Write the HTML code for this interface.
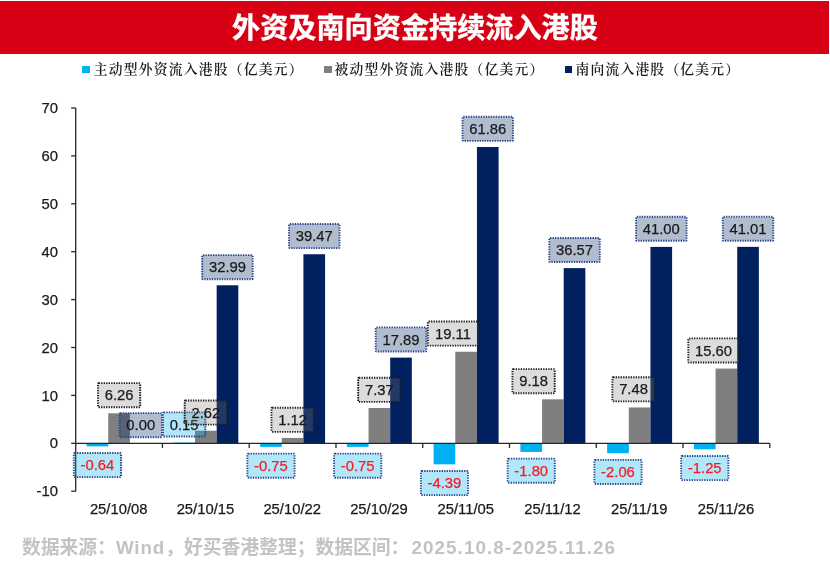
<!DOCTYPE html>
<html lang="zh-CN">
<head>
<meta charset="utf-8">
<title>外资及南向资金持续流入港股</title>
<style>
html,body{margin:0;padding:0;background:#fff;}
body{width:830px;height:561px;position:relative;overflow:hidden;font-family:"Liberation Sans","Noto Sans CJK SC",sans-serif;}
.title{position:absolute;left:0;top:1px;width:828.7px;height:52.5px;background:#d70014;color:#fff;font-weight:700;font-size:28.15px;line-height:52px;text-align:center;font-family:"Liberation Sans","Noto Sans CJK SC",sans-serif;}
.title span{position:relative;left:0.65px;top:1.6px;-webkit-text-stroke:0.4px #fff;}
.legend{position:absolute;top:59px;height:22px;line-height:22px;font-family:"Liberation Serif","Noto Serif CJK SC",serif;font-size:13.8px;letter-spacing:1.2px;font-weight:600;color:#1a1a1a;white-space:nowrap;}
.legend .p{margin-left:0;}
.legend i{position:absolute;top:6.5px;width:7.8px;height:7.8px;display:block;}
.chart{position:absolute;left:0;top:0;}
.foot .l{letter-spacing:0.9px;}
.foot{position:absolute;left:22px;top:534.5px;font-size:18.8px;line-height:26px;font-weight:700;color:#c3c3c3;white-space:nowrap;font-family:"Liberation Sans","Noto Sans CJK SC",sans-serif;}
</style>
</head>
<body>
<div class="title"><span>外资及南向资金持续流入港股</span></div>
<div class="legend" style="left:93.8px"><i style="left:-11.7px;background:#00b0f0"></i>主动型外资流入港股<span class="p">（亿美元）</span></div>
<div class="legend" style="left:334.5px"><i style="left:-10.8px;background:#7f7f7f"></i>被动型外资流入港股<span class="p">（亿美元）</span></div>
<div class="legend" style="left:575.4px"><i style="left:-10.8px;background:#002060"></i>南向流入港股<span class="p">（亿美元）</span></div>
<svg class="chart" width="830" height="561" viewBox="0 0 830 561">
<rect x="86.60" y="443.30" width="21.65" height="3.07" fill="#00b0f0"/>
<rect x="108.25" y="413.31" width="21.65" height="29.99" fill="#7f7f7f"/>
<rect x="173.36" y="442.58" width="21.65" height="0.72" fill="#00b0f0"/>
<rect x="195.01" y="430.75" width="21.65" height="12.55" fill="#7f7f7f"/>
<rect x="216.66" y="285.28" width="21.65" height="158.02" fill="#002060"/>
<rect x="260.12" y="443.30" width="21.65" height="3.59" fill="#00b0f0"/>
<rect x="281.77" y="437.94" width="21.65" height="5.36" fill="#7f7f7f"/>
<rect x="303.42" y="254.24" width="21.65" height="189.06" fill="#002060"/>
<rect x="346.88" y="443.30" width="21.65" height="3.59" fill="#00b0f0"/>
<rect x="368.53" y="408.00" width="21.65" height="35.30" fill="#7f7f7f"/>
<rect x="390.18" y="357.61" width="21.65" height="85.69" fill="#002060"/>
<rect x="433.64" y="443.30" width="21.65" height="21.03" fill="#00b0f0"/>
<rect x="455.29" y="351.76" width="21.65" height="91.54" fill="#7f7f7f"/>
<rect x="476.94" y="146.99" width="21.65" height="296.31" fill="#002060"/>
<rect x="520.40" y="443.30" width="21.65" height="8.62" fill="#00b0f0"/>
<rect x="542.05" y="399.33" width="21.65" height="43.97" fill="#7f7f7f"/>
<rect x="563.70" y="268.13" width="21.65" height="175.17" fill="#002060"/>
<rect x="607.16" y="443.30" width="21.65" height="9.87" fill="#00b0f0"/>
<rect x="628.81" y="407.47" width="21.65" height="35.83" fill="#7f7f7f"/>
<rect x="650.46" y="246.91" width="21.65" height="196.39" fill="#002060"/>
<rect x="693.92" y="443.30" width="21.65" height="5.99" fill="#00b0f0"/>
<rect x="715.57" y="368.58" width="21.65" height="74.72" fill="#7f7f7f"/>
<rect x="737.22" y="246.86" width="21.65" height="196.44" fill="#002060"/>
<g stroke="#262626" stroke-width="1.3" fill="none">
<path d="M75.70 108.00 V491.20"/>
<path d="M75.70 443.30 H769.78"/>
<path d="M71.20 491.20 H75.70"/>
<path d="M71.20 443.30 H75.70"/>
<path d="M71.20 395.40 H75.70"/>
<path d="M71.20 347.50 H75.70"/>
<path d="M71.20 299.60 H75.70"/>
<path d="M71.20 251.70 H75.70"/>
<path d="M71.20 203.80 H75.70"/>
<path d="M71.20 155.90 H75.70"/>
<path d="M71.20 108.00 H75.70"/>
<path d="M162.46 443.30 v4.6"/>
<path d="M249.22 443.30 v4.6"/>
<path d="M335.98 443.30 v4.6"/>
<path d="M422.74 443.30 v4.6"/>
<path d="M509.50 443.30 v4.6"/>
<path d="M596.26 443.30 v4.6"/>
<path d="M683.02 443.30 v4.6"/>
<path d="M769.78 443.30 v4.6"/>
</g>
<g font-family="'Liberation Sans', Arial, sans-serif" font-size="14.8" fill="#1a1a1a" stroke="#1a1a1a" stroke-width="0.25">
<text x="58" y="496.30" text-anchor="end">-10</text>
<text x="58" y="448.40" text-anchor="end">0</text>
<text x="58" y="400.50" text-anchor="end">10</text>
<text x="58" y="352.60" text-anchor="end">20</text>
<text x="58" y="304.70" text-anchor="end">30</text>
<text x="58" y="256.80" text-anchor="end">40</text>
<text x="58" y="208.90" text-anchor="end">50</text>
<text x="58" y="161.00" text-anchor="end">60</text>
<text x="58" y="113.10" text-anchor="end">70</text>
<text x="118.68" y="514.4" text-anchor="middle">25/10/08</text>
<text x="205.44" y="514.4" text-anchor="middle">25/10/15</text>
<text x="292.20" y="514.4" text-anchor="middle">25/10/22</text>
<text x="378.96" y="514.4" text-anchor="middle">25/10/29</text>
<text x="465.72" y="514.4" text-anchor="middle">25/11/05</text>
<text x="552.48" y="514.4" text-anchor="middle">25/11/12</text>
<text x="639.24" y="514.4" text-anchor="middle">25/11/19</text>
<text x="726.00" y="514.4" text-anchor="middle">25/11/26</text>
</g>
<rect x="73.81" y="453.07" width="47.23" height="24.1" rx="0.8" fill="rgba(0,176,240,0.30)" stroke="#254489" stroke-width="1.9" stroke-dasharray="1.3 1.2"/>
<text x="97.43" y="470.27" text-anchor="middle" font-family="'Liberation Sans', Arial, sans-serif" font-size="14.8" fill="#f51c24" stroke="#f51c24" stroke-width="0.25">-0.64</text>
<rect x="163.03" y="412.38" width="42.30" height="24.1" rx="0.8" fill="rgba(0,176,240,0.30)" stroke="#254489" stroke-width="1.9" stroke-dasharray="1.3 1.2"/>
<text x="184.19" y="429.58" text-anchor="middle" font-family="'Liberation Sans', Arial, sans-serif" font-size="14.8" fill="#1a1a1a" stroke="#1a1a1a" stroke-width="0.25">0.15</text>
<rect x="247.33" y="453.59" width="47.23" height="24.1" rx="0.8" fill="rgba(0,176,240,0.30)" stroke="#254489" stroke-width="1.9" stroke-dasharray="1.3 1.2"/>
<text x="270.94" y="470.79" text-anchor="middle" font-family="'Liberation Sans', Arial, sans-serif" font-size="14.8" fill="#f51c24" stroke="#f51c24" stroke-width="0.25">-0.75</text>
<rect x="334.09" y="453.59" width="47.23" height="24.1" rx="0.8" fill="rgba(0,176,240,0.30)" stroke="#254489" stroke-width="1.9" stroke-dasharray="1.3 1.2"/>
<text x="357.70" y="470.79" text-anchor="middle" font-family="'Liberation Sans', Arial, sans-serif" font-size="14.8" fill="#f51c24" stroke="#f51c24" stroke-width="0.25">-0.75</text>
<rect x="420.85" y="471.03" width="47.23" height="24.1" rx="0.8" fill="rgba(0,176,240,0.30)" stroke="#254489" stroke-width="1.9" stroke-dasharray="1.3 1.2"/>
<text x="444.46" y="488.23" text-anchor="middle" font-family="'Liberation Sans', Arial, sans-serif" font-size="14.8" fill="#f51c24" stroke="#f51c24" stroke-width="0.25">-4.39</text>
<rect x="507.61" y="458.62" width="47.23" height="24.1" rx="0.8" fill="rgba(0,176,240,0.30)" stroke="#254489" stroke-width="1.9" stroke-dasharray="1.3 1.2"/>
<text x="531.23" y="475.82" text-anchor="middle" font-family="'Liberation Sans', Arial, sans-serif" font-size="14.8" fill="#f51c24" stroke="#f51c24" stroke-width="0.25">-1.80</text>
<rect x="594.37" y="459.87" width="47.23" height="24.1" rx="0.8" fill="rgba(0,176,240,0.30)" stroke="#254489" stroke-width="1.9" stroke-dasharray="1.3 1.2"/>
<text x="617.99" y="477.07" text-anchor="middle" font-family="'Liberation Sans', Arial, sans-serif" font-size="14.8" fill="#f51c24" stroke="#f51c24" stroke-width="0.25">-2.06</text>
<rect x="681.13" y="455.99" width="47.23" height="24.1" rx="0.8" fill="rgba(0,176,240,0.30)" stroke="#254489" stroke-width="1.9" stroke-dasharray="1.3 1.2"/>
<text x="704.75" y="473.19" text-anchor="middle" font-family="'Liberation Sans', Arial, sans-serif" font-size="14.8" fill="#f51c24" stroke="#f51c24" stroke-width="0.25">-1.25</text>
<rect x="97.92" y="383.11" width="42.30" height="24.1" rx="0.8" fill="rgba(127,127,127,0.27)" stroke="#1a1a1a" stroke-width="1.9" stroke-dasharray="1.3 1.2"/>
<text x="119.08" y="400.31" text-anchor="middle" font-family="'Liberation Sans', Arial, sans-serif" font-size="14.8" fill="#1a1a1a" stroke="#1a1a1a" stroke-width="0.25">6.26</text>
<rect x="184.68" y="400.55" width="42.30" height="24.1" rx="0.8" fill="rgba(127,127,127,0.27)" stroke="#1a1a1a" stroke-width="1.9" stroke-dasharray="1.3 1.2"/>
<text x="205.84" y="417.75" text-anchor="middle" font-family="'Liberation Sans', Arial, sans-serif" font-size="14.8" fill="#1a1a1a" stroke="#1a1a1a" stroke-width="0.25">2.62</text>
<rect x="271.44" y="407.74" width="42.30" height="24.1" rx="0.8" fill="rgba(127,127,127,0.27)" stroke="#1a1a1a" stroke-width="1.9" stroke-dasharray="1.3 1.2"/>
<text x="292.59" y="424.94" text-anchor="middle" font-family="'Liberation Sans', Arial, sans-serif" font-size="14.8" fill="#1a1a1a" stroke="#1a1a1a" stroke-width="0.25">1.12</text>
<rect x="358.20" y="377.80" width="42.30" height="24.1" rx="0.8" fill="rgba(127,127,127,0.27)" stroke="#1a1a1a" stroke-width="1.9" stroke-dasharray="1.3 1.2"/>
<text x="379.35" y="395.00" text-anchor="middle" font-family="'Liberation Sans', Arial, sans-serif" font-size="14.8" fill="#1a1a1a" stroke="#1a1a1a" stroke-width="0.25">7.37</text>
<rect x="427.75" y="321.56" width="50.53" height="24.1" rx="0.8" fill="rgba(127,127,127,0.27)" stroke="#1a1a1a" stroke-width="1.9" stroke-dasharray="1.3 1.2"/>
<text x="453.01" y="338.76" text-anchor="middle" font-family="'Liberation Sans', Arial, sans-serif" font-size="14.8" fill="#1a1a1a" stroke="#1a1a1a" stroke-width="0.25">19.11</text>
<rect x="512.42" y="369.13" width="42.30" height="24.1" rx="0.8" fill="rgba(127,127,127,0.27)" stroke="#1a1a1a" stroke-width="1.9" stroke-dasharray="1.3 1.2"/>
<text x="533.58" y="386.33" text-anchor="middle" font-family="'Liberation Sans', Arial, sans-serif" font-size="14.8" fill="#1a1a1a" stroke="#1a1a1a" stroke-width="0.25">9.18</text>
<rect x="612.38" y="377.27" width="42.30" height="24.1" rx="0.8" fill="rgba(127,127,127,0.27)" stroke="#1a1a1a" stroke-width="1.9" stroke-dasharray="1.3 1.2"/>
<text x="633.54" y="394.47" text-anchor="middle" font-family="'Liberation Sans', Arial, sans-serif" font-size="14.8" fill="#1a1a1a" stroke="#1a1a1a" stroke-width="0.25">7.48</text>
<rect x="688.28" y="338.38" width="50.53" height="24.1" rx="0.8" fill="rgba(127,127,127,0.27)" stroke="#1a1a1a" stroke-width="1.9" stroke-dasharray="1.3 1.2"/>
<text x="713.55" y="355.58" text-anchor="middle" font-family="'Liberation Sans', Arial, sans-serif" font-size="14.8" fill="#1a1a1a" stroke="#1a1a1a" stroke-width="0.25">15.60</text>
<rect x="119.57" y="413.10" width="42.30" height="24.1" rx="0.8" fill="rgba(0,32,96,0.30)" stroke="#254489" stroke-width="1.9" stroke-dasharray="1.3 1.2"/>
<text x="140.72" y="430.30" text-anchor="middle" font-family="'Liberation Sans', Arial, sans-serif" font-size="14.8" fill="#1a1a1a" stroke="#1a1a1a" stroke-width="0.25">0.00</text>
<rect x="202.22" y="255.08" width="50.53" height="24.1" rx="0.8" fill="rgba(0,32,96,0.30)" stroke="#254489" stroke-width="1.9" stroke-dasharray="1.3 1.2"/>
<text x="227.49" y="272.28" text-anchor="middle" font-family="'Liberation Sans', Arial, sans-serif" font-size="14.8" fill="#1a1a1a" stroke="#1a1a1a" stroke-width="0.25">32.99</text>
<rect x="288.98" y="224.04" width="50.53" height="24.1" rx="0.8" fill="rgba(0,32,96,0.30)" stroke="#254489" stroke-width="1.9" stroke-dasharray="1.3 1.2"/>
<text x="314.25" y="241.24" text-anchor="middle" font-family="'Liberation Sans', Arial, sans-serif" font-size="14.8" fill="#1a1a1a" stroke="#1a1a1a" stroke-width="0.25">39.47</text>
<rect x="375.74" y="327.41" width="50.53" height="24.1" rx="0.8" fill="rgba(0,32,96,0.30)" stroke="#254489" stroke-width="1.9" stroke-dasharray="1.3 1.2"/>
<text x="401.00" y="344.61" text-anchor="middle" font-family="'Liberation Sans', Arial, sans-serif" font-size="14.8" fill="#1a1a1a" stroke="#1a1a1a" stroke-width="0.25">17.89</text>
<rect x="462.50" y="116.79" width="50.53" height="24.1" rx="0.8" fill="rgba(0,32,96,0.30)" stroke="#254489" stroke-width="1.9" stroke-dasharray="1.3 1.2"/>
<text x="487.76" y="133.99" text-anchor="middle" font-family="'Liberation Sans', Arial, sans-serif" font-size="14.8" fill="#1a1a1a" stroke="#1a1a1a" stroke-width="0.25">61.86</text>
<rect x="549.26" y="237.93" width="50.53" height="24.1" rx="0.8" fill="rgba(0,32,96,0.30)" stroke="#254489" stroke-width="1.9" stroke-dasharray="1.3 1.2"/>
<text x="574.52" y="255.13" text-anchor="middle" font-family="'Liberation Sans', Arial, sans-serif" font-size="14.8" fill="#1a1a1a" stroke="#1a1a1a" stroke-width="0.25">36.57</text>
<rect x="636.02" y="216.71" width="50.53" height="24.1" rx="0.8" fill="rgba(0,32,96,0.30)" stroke="#254489" stroke-width="1.9" stroke-dasharray="1.3 1.2"/>
<text x="661.29" y="233.91" text-anchor="middle" font-family="'Liberation Sans', Arial, sans-serif" font-size="14.8" fill="#1a1a1a" stroke="#1a1a1a" stroke-width="0.25">41.00</text>
<rect x="722.78" y="216.66" width="50.53" height="24.1" rx="0.8" fill="rgba(0,32,96,0.30)" stroke="#254489" stroke-width="1.9" stroke-dasharray="1.3 1.2"/>
<text x="748.05" y="233.86" text-anchor="middle" font-family="'Liberation Sans', Arial, sans-serif" font-size="14.8" fill="#1a1a1a" stroke="#1a1a1a" stroke-width="0.25">41.01</text>
</svg>
<div class="foot">数据来源：<span class="l">Wind</span>，好买香港整理；数据区间：<span class="l" style="margin-left:2px;letter-spacing:1.1px">2025.10.8-2025.11.26</span></div>
</body>
</html>
